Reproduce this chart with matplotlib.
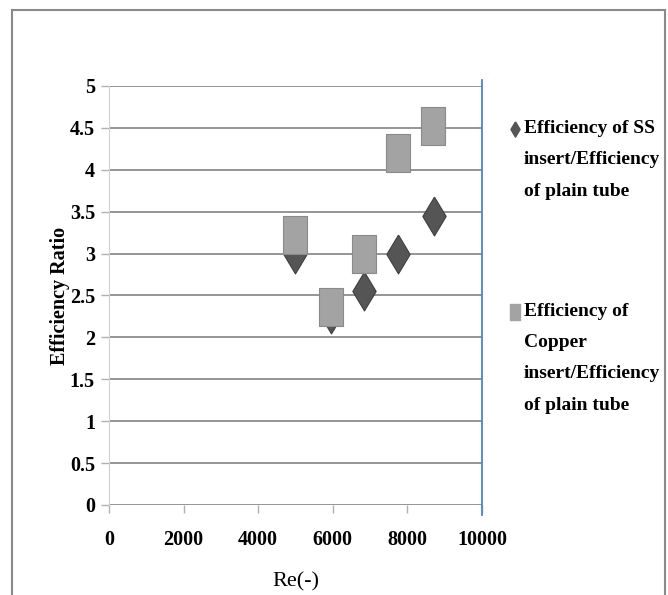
import numpy as np
import matplotlib
matplotlib.use("Agg")
import matplotlib.pyplot as plt
from matplotlib.lines import Line2D
from matplotlib.patches import Rectangle

# === data ===
re_ss = [5000, 5950, 6850, 7750, 8700]
eff_ss = [3.0, 2.28, 2.55, 3.0, 3.45]
re_cu = [5000, 5950, 6850, 7750, 8680]
eff_cu = [3.22, 2.36, 3.0, 4.2, 4.52]
legend_labels = ["Efficiency of SS\ninsert/Efficiency\nof plain tube",
                 "Efficiency of\nCopper\ninsert/Efficiency\nof plain tube"]
x_ticks = [0, 2000, 4000, 6000, 8000, 10000]
y_ticks = [0, 0.5, 1, 1.5, 2, 2.5, 3, 3.5, 4, 4.5, 5]

plt.rcParams['font.family'] = ['Liberation Serif', 'DejaVu Serif']

# tall diamond / tall box markers like the excel ones
diamond = [(0, 1), (0.6, 0), (0, -1), (-0.6, 0), (0, 1)]
box = [(-0.64, -1), (0.64, -1), (0.64, 1), (-0.64, 1), (-0.64, -1)]

fig = plt.figure(figsize=(6.68, 5.95), dpi=100)
ax = fig.add_axes([0.163, 0.1513, 0.5586, 0.7042])

for y in y_ticks:
    ax.axhline(y, color='#8c8c8c', lw=1.3, zorder=1)

ax.plot(re_ss, eff_ss, ls='none', marker=diamond, ms=28, mfc='#555555',
        mec='#3e3e3e', mew=0.8, zorder=3)
ax.plot(re_cu, eff_cu, ls='none', marker=box, ms=28, mfc='#a3a3a3',
        mec='#8a8a8a', mew=0.8, zorder=4)

ax.set_xlim(0, 10000)
ax.set_ylim(0, 5)
ax.set_xticks(x_ticks)
ax.set_yticks(y_ticks)
ax.set_yticklabels([f"{v:g}" for v in y_ticks])
for s in ['top', 'right', 'bottom']:
    ax.spines[s].set_visible(False)
ax.spines['left'].set_color('#d0d0d0')
ax.tick_params(axis='both', colors='#b0b0b0', length=6, width=1, labelcolor='black',
               labelsize=14.5)
ax.tick_params(axis='x', pad=12)
ax.tick_params(axis='y', pad=4)
for lab in ax.get_xticklabels() + ax.get_yticklabels():
    lab.set_fontweight('bold')

ax.plot([1, 1], [-0.025, 1.015], transform=ax.transAxes, color='#4f81cf',
        lw=1.3, clip_on=False, zorder=5)

ax.set_ylabel("Efficiency Ratio", fontsize=14.5, fontweight='bold', labelpad=0)
ax.set_xlabel("Re(-)", fontsize=16, labelpad=16)

# legend drawn by hand so the marker sits on the first line
leg_y = [0.783, 0.476]
leg_mk = [(diamond, '#555555'), (box, '#a3a3a3')]
for lab, y0, (mk, c) in zip(legend_labels, leg_y, leg_mk):
    fig.add_artist(Line2D([0.771], [y0], marker=mk, ms=11, mfc=c, mec=c,
                          ls='none', transform=fig.transFigure))
    fig.text(0.784, y0 + 0.015, lab, fontsize=14, fontweight='bold',
             va='top', ha='left', linespacing=2.1)

fig.add_artist(Rectangle((12 / 668, -0.05), (665 - 12) / 668, 1.05 - 10 / 595,
                         transform=fig.transFigure, fill=False,
                         ec='#8a8a8a', lw=1.5))

plt.savefig("out.png", dpi=100)
plt.close()
